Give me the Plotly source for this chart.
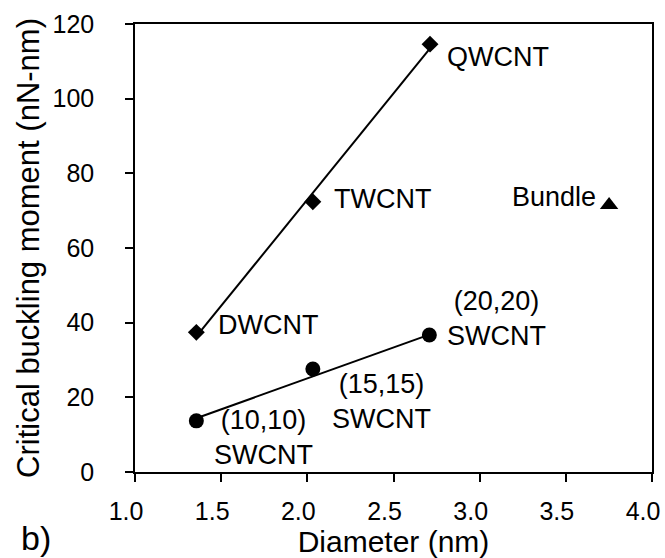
import plotly.graph_objects as go

# Data
mwcnt_d = [1.356, 2.032, 2.712]          # DWCNT, TWCNT, QWCNT diameters (nm)
mwcnt_m = [37.4, 72.4, 114.6]            # critical buckling moment (nN-nm)
mwcnt_fit_x = [1.356, 2.712]
mwcnt_fit_y = [36.3, 113.5]

swcnt_d = [1.356, 2.032, 2.708]          # (10,10), (15,15), (20,20)
swcnt_m = [13.7, 27.6, 36.7]
swcnt_fit_x = [1.356, 2.708]
swcnt_fit_y = [14.4, 36.8]

bundle_d = [3.751]
bundle_m = [71.5]

x_ticks = [1.0, 1.5, 2.0, 2.5, 3.0, 3.5, 4.0]
x_tick_labels = ["1.0", "1.5", "2.0", "2.5", "3.0", "3.5", "4.0"]
y_ticks = [0, 20, 40, 60, 80, 100, 120]

labels = [
    # text, x, y, xanchor
    ("QWCNT", 2.799, 111.2, "left"),
    ("TWCNT", 2.143, 73.1, "left"),
    ("DWCNT", 1.472, 39.4, "left"),
    ("(20,20)<br>SWCNT", 3.100, 41.0, "center"),
    ("(15,15)<br>SWCNT", 2.428, 19.0, "center"),
    ("(10,10)<br>SWCNT", 1.745, 9.2, "center"),
    ("Bundle", 3.685, 73.7, "right"),
]

FONT = "Liberation Sans, Arial, sans-serif"

fig = go.Figure()
fig.add_trace(go.Scatter(x=mwcnt_fit_x, y=mwcnt_fit_y, mode="lines",
                         line=dict(color="black", width=2), showlegend=False,
                         hoverinfo="skip"))
fig.add_trace(go.Scatter(x=swcnt_fit_x, y=swcnt_fit_y, mode="lines",
                         line=dict(color="black", width=2), showlegend=False,
                         hoverinfo="skip"))
fig.add_trace(go.Scatter(x=mwcnt_d, y=mwcnt_m, mode="markers",
                         marker=dict(symbol="diamond", size=13, color="black"),
                         showlegend=False))
fig.add_trace(go.Scatter(x=swcnt_d, y=swcnt_m, mode="markers",
                         marker=dict(symbol="circle", size=15, color="black"),
                         showlegend=False))
fig.add_trace(go.Scatter(x=bundle_d, y=bundle_m, mode="markers",
                         marker=dict(symbol="triangle-up", size=16, color="black"),
                         showlegend=False))

for text, x, y, xa in labels:
    fig.add_annotation(x=x, y=y, xref="x", yref="y", text=text, showarrow=False,
                       xanchor=xa, yanchor="middle", align="center",
                       font=dict(family=FONT, size=27, color="black"))

axis_common = dict(
    showline=True, linecolor="black", linewidth=1.5, mirror=True,
    ticks="outside", ticklen=8, tickwidth=1.5, tickcolor="black",
    showgrid=False, zeroline=False, automargin=False,
    tickfont=dict(family=FONT, size=25, color="black"),
)

fig.update_xaxes(range=[1.0, 4.0], tickvals=x_ticks, ticktext=x_tick_labels,
                 ticklabelshift=-9,
                 title=dict(text="Diameter (nm)", font=dict(family=FONT, size=30, color="black"),
                            standoff=1),
                 ticklabelstandoff=8, **axis_common)
fig.update_yaxes(range=[0, 120], tickvals=y_ticks,
                 title=dict(text="Critical buckling moment (nN-nm)",
                            font=dict(family=FONT, size=31, color="black"), standoff=4),
                 ticklabelstandoff=26, **axis_common)

W, H = 665, 558
ML, MR, MT, MB = 134.5, 12.7, 24.3, 86
fig.update_layout(
    width=W, height=H,
    margin=dict(l=ML, r=MR, t=MT, b=MB, autoexpand=False),
    plot_bgcolor="white", paper_bgcolor="white",
    font=dict(family=FONT, color="black"),
)

# "b)" panel label, placed at pixel (35, 538) expressed in paper coordinates
fig.add_annotation(x=(35 - ML) / (W - ML - MR), y=(H - MB - 538) / (H - MT - MB),
                   xref="paper", yref="paper", text="b)", showarrow=False,
                   xanchor="center", yanchor="middle",
                   font=dict(family=FONT, size=34, color="black"))

fig.write_html("out.html")
